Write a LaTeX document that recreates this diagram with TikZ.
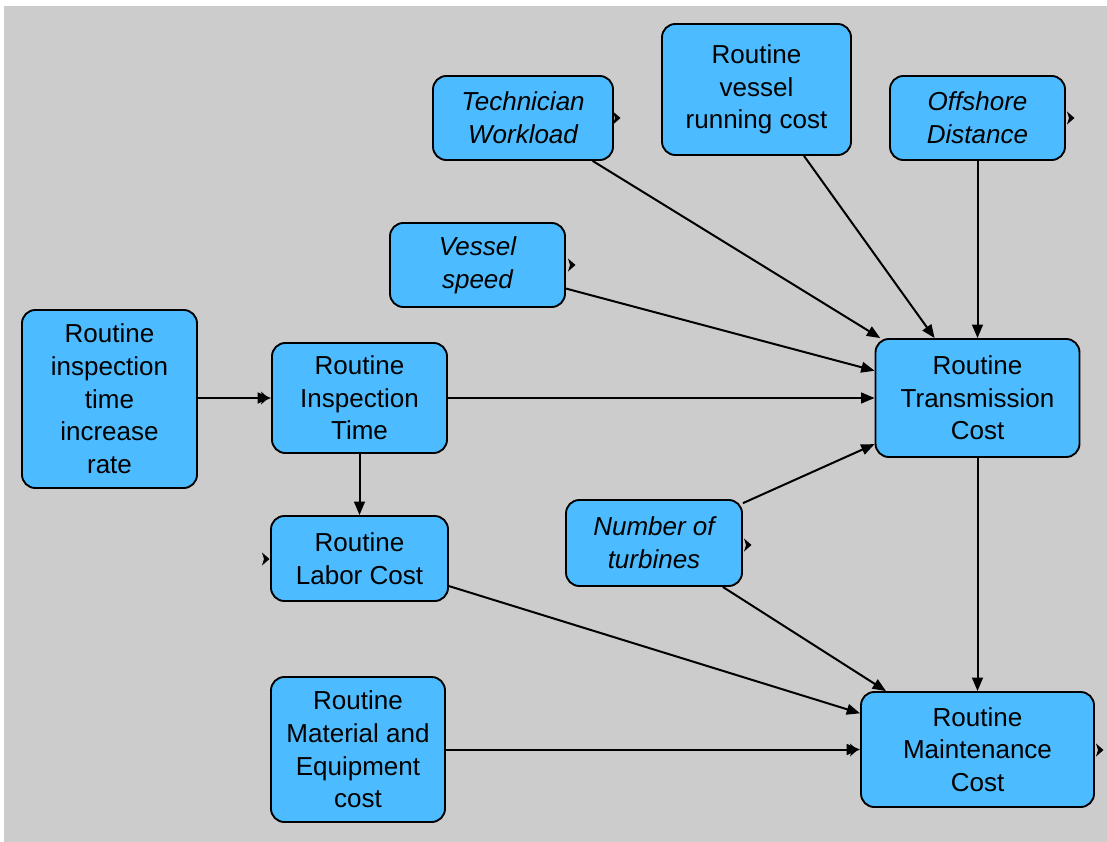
\documentclass[tikz,border=0pt]{standalone}
\usepackage{fontspec}
\setmainfont{Liberation Sans}
\usetikzlibrary{arrows.meta}
\definecolor{bg}{RGB}{204,204,204}
\definecolor{boxblue}{RGB}{77,187,255}
\tikzset{
  box/.style={draw=black, line width=1.4pt, fill=boxblue, rounded corners=10pt,
    align=center, inner sep=0pt, font=\fontsize{19.5pt}{24.5pt}\selectfont},
  boxsize/.style 2 args={minimum width=#1*0.75pt, minimum height=#2*0.75pt},
  itbox/.style={box, font=\fontsize{19.5pt}{24.5pt}\selectfont\itshape},
  conn/.style={line width=1.5pt, -{Triangle[length=10pt,width=8pt]}},
}
\newcommand{\marker}[2]{\fill (#1-3,#2-6.5) -- (#1+4.5,#2) -- (#1-3,#2+6.5) -- (#1-1,#2) -- cycle;}
\begin{document}
\begin{tikzpicture}[x=0.75pt, y=-0.75pt]
\useasboundingbox (0,0) rectangle (1107,842);
\fill[white] (0,0) rectangle (1107,842);
\fill[bg] (4,6) rectangle (1107,842);

\node[itbox, boxsize={180}{84}] (tw) at (523,118) {Technician\\Workload};
\node[box, boxsize={189}{131}] (vrc) at (756.5,89.5) {Routine\\vessel\\running cost};
\node[itbox, boxsize={175}{84}] (od) at (977.5,118) {Offshore\\Distance};
\node[itbox, boxsize={175}{84}] (vs) at (477.5,265) {Vessel\\speed};
\node[box, boxsize={175}{178}] (rate) at (109.5,399) {Routine\\inspection\\time\\increase\\rate};
\node[box, boxsize={175}{110}] (rit) at (359.5,398) {Routine\\Inspection\\Time};
\node[box, boxsize={204}{118}] (rtc) at (977.5,398) {Routine\\Transmission\\Cost};
\node[box, boxsize={177}{85}] (rlc) at (359.5,558.5) {Routine\\Labor Cost};
\node[itbox, boxsize={176}{86}] (nt) at (654,543) {Number of\\turbines};
\node[box, boxsize={174}{145}] (rme) at (358,749.5) {Routine\\Material and\\Equipment\\cost};
\node[box, boxsize={233}{115}] (rmc) at (977.5,749.5) {Routine\\Maintenance\\Cost};

\draw[conn] (tw) -- (rtc);
\draw[conn] (vrc) -- (rtc);
\draw[conn] (od) -- (rtc);
\draw[conn] (vs) -- (rtc);
\draw[conn] (rit) -- (rtc);
\draw[conn] (nt) -- (rtc);
\draw[conn] (rate.east |- rit) -- (rit);
\draw[conn] (rit) -- (rlc);
\draw[conn] (rlc) -- (rmc);
\draw[conn] (nt) -- (rmc);
\draw[conn] (rtc) -- (rmc);
\draw[conn] (rme) -- (rmc);

\marker{616}{118}
\marker{1070}{118}
\marker{571}{265}
\marker{264}{398}
\marker{265}{559}
\marker{747}{545}
\marker{853}{750}
\marker{1099}{750}
\end{tikzpicture}
\end{document}
